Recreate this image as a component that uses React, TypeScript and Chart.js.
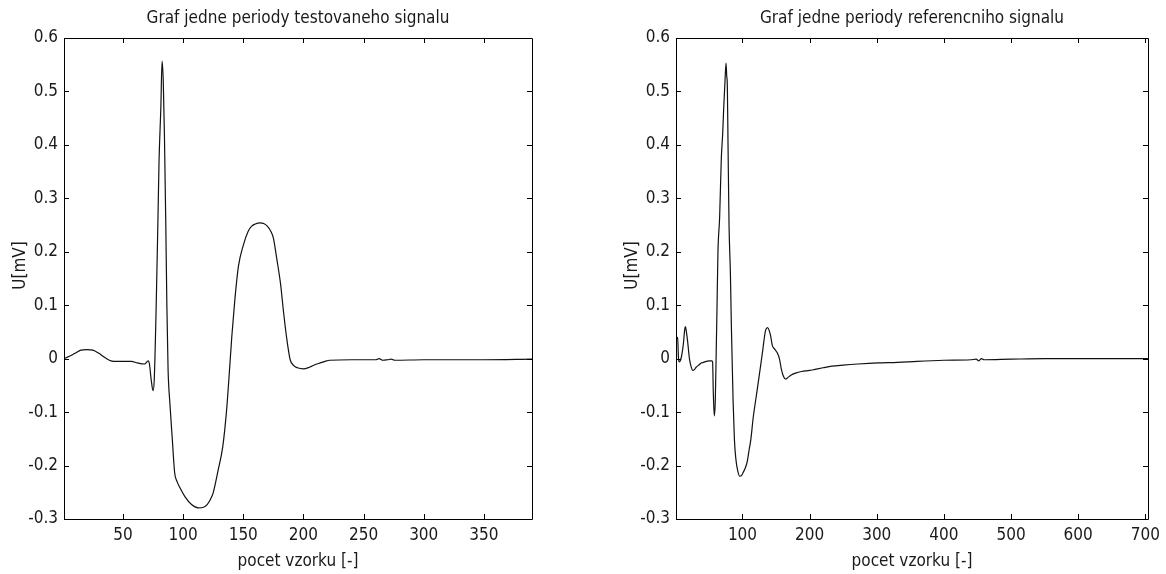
import React, { useEffect, useRef } from 'react';
import { Chart, registerables } from 'chart.js';

Chart.register(...registerables);

const FONT = "'Liberation Sans Narrow', 'DejaVu Sans Condensed', 'Liberation Sans', sans-serif";
const TEXT_COLOR = '#1a1a1a';

// ---- texts ----
const leftTitle = 'Graf jedne periody testovaneho signalu';
const rightTitle = 'Graf jedne periody referencniho signalu';
const xAxisLabel = 'pocet vzorku [-]';
const yAxisLabel = 'U[mV]';

// ---- ticks ----
const yTicks = [-0.3, -0.2, -0.1, 0, 0.1, 0.2, 0.3, 0.4, 0.5, 0.6];
const leftXTicks = [50, 100, 150, 200, 250, 300, 350];
const rightXTicks = [100, 200, 300, 400, 500, 600, 700];

// ---- tested signal (left) ----
const leftSampleX = [
  1, 5, 10, 15, 20, 25, 30, 35, 40, 45, 50, 57, 62, 68, 71, 72, 73.5, 75, 76, 77.5,
  79, 80, 81.5, 82.5, 83.5, 84.5, 85.6, 86.5, 87.5, 89, 91, 93, 95, 97.5, 101.5, 107,
  112.5, 117, 120, 123, 125, 129, 133, 136, 138, 140.5, 143, 146, 150, 154, 157, 160,
  164, 167, 170, 173, 175, 178, 181, 183.6, 186, 189, 192, 195, 200, 205, 210, 214,
  218, 222, 240, 260, 263, 266, 270, 273, 276, 300, 350, 390,
];
const leftSampleU = [
  0.0, 0.004, 0.01, 0.016, 0.017, 0.016, 0.01, 0.002, -0.004, -0.005, -0.005, -0.005, -0.008, -0.01, -0.004, -0.01, -0.04, -0.06, -0.04, 0.086,
  0.25, 0.37, 0.47, 0.557, 0.52, 0.415, 0.254, 0.1, -0.02, -0.083, -0.15, -0.214, -0.23, -0.242, -0.258, -0.273,
  -0.279, -0.278, -0.273, -0.262, -0.251, -0.21, -0.164, -0.1, -0.04, 0.042, 0.11, 0.173, 0.212, 0.238, 0.248, 0.252,
  0.254, 0.253, 0.248, 0.238, 0.226, 0.185, 0.14, 0.085, 0.04, -0.002, -0.013, -0.017, -0.019, -0.016, -0.011, -0.008,
  -0.005, -0.003, -0.002, -0.002, 0.0, -0.003, -0.002, -0.001, -0.003, -0.002, -0.002, -0.001,
];

// ---- reference signal (right) ----
const rightSampleX = [
  1, 2, 3.5, 4.5, 5.5, 8, 10, 12, 14, 15, 16.5, 18.5, 21, 23.5, 26, 28, 31, 35, 38.5, 42,
  46, 50, 54, 55.5, 56.5, 58, 59.5, 61, 62, 63.5, 66, 68.5, 70.5, 72, 74, 75.5, 76.5, 77.5,
  78.5, 80, 82, 83.5, 86, 88, 90, 93, 96, 99, 101, 104, 107, 110, 112.5, 116, 120, 124.8,
  129.7, 134.6, 137.5, 140, 142, 144.4, 148, 151.8, 155, 158, 161, 164, 168, 172, 179, 188,
  200, 208, 220, 233, 250, 272, 302, 331, 360, 400, 440, 448, 452, 456, 460, 500, 550, 600,
  650, 704,
];
const rightSampleU = [
  0.02, 0.038, 0.04, 0.005, -0.006, -0.002, 0.01, 0.028, 0.055, 0.06, 0.05, 0.03, 0.0, -0.015, -0.022, -0.021, -0.016, -0.012, -0.008, -0.007,
  -0.005, -0.004, -0.004, -0.006, -0.06, -0.107, -0.08, 0.02, 0.09, 0.2, 0.265, 0.375, 0.42, 0.467, 0.52, 0.553, 0.53, 0.508,
  0.4, 0.25, 0.161, 0.059, -0.077, -0.151, -0.186, -0.21, -0.22, -0.218, -0.213, -0.205, -0.193, -0.17, -0.151, -0.11, -0.075, -0.033,
  0.011, 0.054, 0.058, 0.052, 0.042, 0.025, 0.018, 0.011, 0.0, -0.02, -0.033, -0.038, -0.035, -0.031, -0.027, -0.024,
  -0.022, -0.02, -0.017, -0.014, -0.012, -0.01, -0.008, -0.007, -0.005, -0.003, -0.002, -0.001, -0.004, 0.0, -0.002, -0.001, 0.0, 0.0,
  0.0, 0.0,
];

const framePlugin = {
  id: 'matlabFrame',
  afterDraw(chart: any, _args: any, opts: any) {
    const { ctx, chartArea } = chart;
    const xs = chart.scales.x;
    const ys = chart.scales.y;
    const { left, right, top, bottom } = chartArea;
    const tl = 5;
    ctx.save();
    ctx.strokeStyle = '#000';
    ctx.lineWidth = 1;
    ctx.beginPath();
    ctx.rect(Math.round(left) + 0.5, Math.round(top) + 0.5, Math.round(right - left), Math.round(bottom - top));
    for (const t of xs.ticks) {
      const px = Math.round(xs.getPixelForValue(t.value)) + 0.5;
      ctx.moveTo(px, bottom);
      ctx.lineTo(px, bottom - tl);
      ctx.moveTo(px, top);
      ctx.lineTo(px, top + tl);
    }
    for (const t of ys.ticks) {
      const py = Math.round(ys.getPixelForValue(t.value)) + 0.5;
      ctx.moveTo(left, py);
      ctx.lineTo(left + tl, py);
      ctx.moveTo(right, py);
      ctx.lineTo(right - tl, py);
    }
    ctx.stroke();

    // y-axis label (rotated), placed like the original figure
    ctx.fillStyle = TEXT_COLOR;
    ctx.font = `17px ${FONT}`;
    ctx.textAlign = 'center';
    ctx.textBaseline = 'middle';
    ctx.translate(opts.labelX, (top + bottom) / 2 - 13);
    ctx.rotate(-Math.PI / 2);
    ctx.fillText(yAxisLabel, 0, 0);
    ctx.restore();
  },
};

type PanelProps = {
  title: string;
  xs: number[];
  us: number[];
  xMin: number;
  xMax: number;
  xTicks: number[];
  axisWidth: number;
  rightPad: number;
  yTitleCenter: number;
  left: number;
};

function Panel(p: PanelProps) {
  const ref = useRef<HTMLCanvasElement | null>(null);
  useEffect(() => {
    if (!ref.current) return;
    const data = p.xs.map((x, i) => ({ x, y: p.us[i] }));
    const chart = new Chart(ref.current, {
      type: 'line',
      data: {
        datasets: [
          {
            data,
            borderColor: '#111',
            borderWidth: 1.2,
            pointRadius: 0,
            cubicInterpolationMode: 'monotone',
            fill: false,
          },
        ],
      },
      options: {
        responsive: false,
        animation: false,
        events: [],
        layout: { padding: { left: 0, right: p.rightPad, top: 0, bottom: 0 } },
        plugins: {
          legend: { display: false },
          tooltip: { enabled: false },
          matlabFrame: { labelX: p.yTitleCenter },
          title: {
            display: true,
            text: p.title,
            fullSize: false,
            color: TEXT_COLOR,
            font: { family: FONT, size: 17, weight: 'normal', lineHeight: 1.2 },
            padding: { top: 8, bottom: 9.6 },
          },
        },
        scales: {
          x: {
            type: 'linear',
            min: p.xMin,
            max: p.xMax,
            grid: { display: false, drawTicks: false, tickLength: 0 },
            border: { display: false },
            afterBuildTicks: (scale: any) => {
              scale.ticks = p.xTicks.map((v) => ({ value: v }));
            },
            afterFit: (scale: any) => {
              scale.height = 55;
            },
            ticks: {
              color: TEXT_COLOR,
              font: { family: FONT, size: 17 },
              padding: 6,
              maxRotation: 0,
              autoSkip: false,
              callback: (v: any) => String(v),
            },
            title: {
              display: true,
              text: xAxisLabel,
              color: TEXT_COLOR,
              font: { family: FONT, size: 17, lineHeight: 1.2 },
              padding: { top: 0, bottom: 2 },
            },
          },
          y: {
            type: 'linear',
            min: -0.3,
            max: 0.6,
            grid: { display: false, drawTicks: false, tickLength: 0 },
            border: { display: false },
            afterBuildTicks: (scale: any) => {
              scale.ticks = yTicks.map((v) => ({ value: v }));
            },
            afterFit: (scale: any) => {
              scale.width = p.axisWidth;
            },
            ticks: {
              color: TEXT_COLOR,
              font: { family: FONT, size: 17 },
              padding: 6,
              autoSkip: false,
              callback: (v: any) => String(v),
            },
          },
        },
      },
      plugins: [framePlugin],
    } as any);
    return () => chart.destroy();
  }, []);
  return (
    <canvas
      ref={ref}
      width={583}
      height={574}
      style={{ position: 'absolute', left: p.left, top: 0, width: 583, height: 574 }}
    />
  );
}

export default function App() {
  return (
    <div style={{ position: 'absolute', left: 0, top: 0, width: 1166, height: 574, background: '#fff' }}>
      <Panel
        title={leftTitle}
        xs={leftSampleX}
        us={leftSampleU}
        xMin={1}
        xMax={390}
        xTicks={leftXTicks}
        axisWidth={64}
        rightPad={51}
        yTitleCenter={21}
        left={0}
      />
      <Panel
        title={rightTitle}
        xs={rightSampleX}
        us={rightSampleU}
        xMin={1}
        xMax={704}
        xTicks={rightXTicks}
        axisWidth={93}
        rightPad={13}
        yTitleCenter={50}
        left={583}
      />
    </div>
  );
}
